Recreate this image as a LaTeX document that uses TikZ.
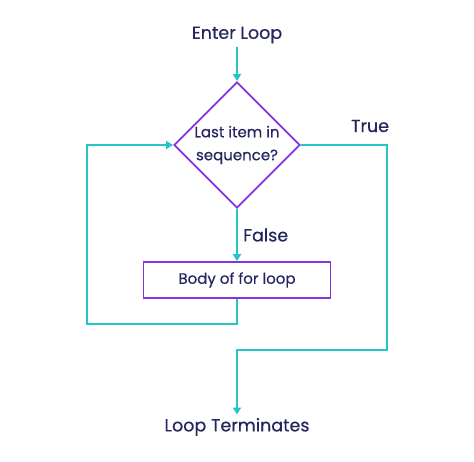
\documentclass[tikz,border=0pt]{standalone}
\usepackage{fontspec}
\setmainfont{Poppins}[FakeBold=0.5]
\usetikzlibrary{shapes.geometric, arrows.meta, positioning}
\definecolor{flowcyan}{HTML}{22C5C9}
\definecolor{flowpurple}{HTML}{8433E0}
\definecolor{flowink}{HTML}{25265E}
\tikzstyle{decision} = [diamond, draw=flowpurple, line width=1.8pt, minimum width=126pt, minimum height=126pt, inner sep=0pt, align=center, text=flowink, font=\fontsize{15}{23}\selectfont]
\tikzstyle{block} = [rectangle, draw=flowpurple, line width=1.8pt, minimum width=187pt, minimum height=36pt, text centered, text=flowink, font=\fontsize{15}{17}\selectfont]
\tikzstyle{flowtext} = [text=flowink, font=\fontsize{17.5}{19}\selectfont]
\tikzstyle{arrow} = [-{Triangle[length=7pt,width=8pt]}, draw=flowcyan, line width=1.8pt]

\begin{document}
\begin{tikzpicture}[x=1pt, y=-1pt]
    \useasboundingbox (0, 0) rectangle (474, 461);

    \node (enter) [flowtext] at (237, 35) {Enter Loop};
    \node (check) [decision] at (237, 145) {Last item in\\sequence?};
    \node (body) [block] at (237, 280) {Body of for loop};
    \node (finish) [flowtext] at (237, 427) {Loop Terminates};
    \node (truetext) [flowtext] at (370, 126) {True};

    \coordinate (backcorner) at (87, 324);
    \coordinate (exitcorner) at (387, 350);

    \draw [arrow] (enter) -- (check.north);
    \draw [arrow] (check.south) -- node[flowtext, right, xshift=2pt] {False} (body.north);
    \draw [arrow] (body.south) |- (backcorner) |- (check.west);
    \draw [arrow] (check.east) -| (exitcorner) -| (finish.north);

\end{tikzpicture}
\end{document}
